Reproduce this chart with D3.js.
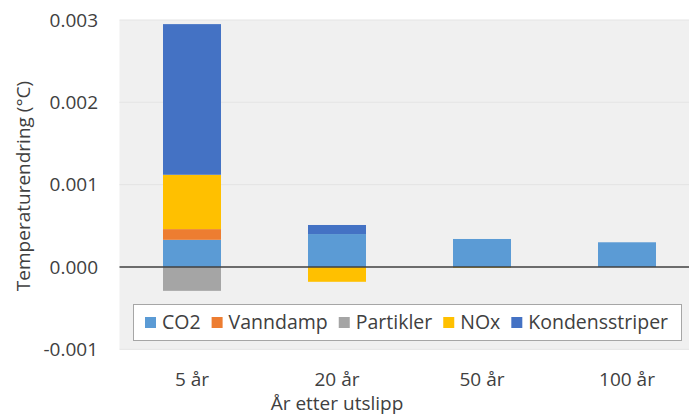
<!DOCTYPE html>
<html><head><meta charset="utf-8">
<script src="https://cdn.jsdelivr.net/npm/d3@7"></script>
<style>body{margin:0;background:#fff}svg{display:block}text{font-family:"Open Sans",sans-serif;fill:#404040}</style>
</head><body><svg id="c" width="689" height="416"></svg>
<script>
const categories = ["5 år", "20 år", "50 år", "100 år"];
const seriesNames = ["CO2", "Vanndamp", "Partikler", "NOx", "Kondensstriper"];
const co2 = [0.00033, 0.00040, 0.00034, 0.00030];
const vanndamp = [0.00013, 0.0, 0.0, 0.0];
const partikler = [-0.00029, 0.0, 0.0, 0.0];
const nox = [0.00066, -0.00018, -0.00001, 0.0];
const kondensstriper = [0.00183, 0.00011, 0.0, 0.0];
const yTicks = [-0.001, 0.000, 0.001, 0.002, 0.003];
const colors = ["#5B9BD5", "#ED7D31", "#A5A5A5", "#FFC000", "#4472C4"];

const FS = "19px";
const seriesVals = [co2, vanndamp, partikler, nox, kondensstriper];
const svg = d3.select("#c");
const x = d3.scaleBand().domain(categories).range([119.5, 699.5]).paddingInner(0.6).paddingOuter(0.3);
const y = d3.scaleLinear().domain([-0.001, 0.003]).range([349.3, 20]);

// plot background
svg.append("rect").attr("x", 119.5).attr("y", y(0.003)).attr("width", 580).attr("height", y(-0.001) - y(0.003)).attr("fill", "#f0f0f0");
// grid
svg.append("g").selectAll("line").data(yTicks.filter(d => d !== 0)).join("line")
  .attr("x1", 119.5).attr("x2", 699).attr("y1", d => y(d)).attr("y2", d => y(d))
  .attr("stroke", "#e4e4e4").attr("stroke-width", 1);

// y axis labels
const fmt = d3.format(".3f");
const yAxis = d3.axisLeft(y).tickValues(yTicks).tickFormat(d => fmt(d).replace("−", "-")).tickSize(0).tickPadding(0);
const ya = svg.append("g").attr("transform", "translate(98,0)").call(yAxis);
ya.select(".domain").remove();
ya.selectAll("text").style("font-size", FS).attr("fill", "#404040").style("font-family", "'Open Sans',sans-serif");

// stacked bars (positive and negative separately)
categories.forEach((c, i) => {
  let pos = 0, neg = 0;
  seriesVals.forEach((s, k) => {
    const v = s[i];
    if (v === 0) return;
    let y0, y1;
    if (v > 0) { y0 = pos; y1 = pos + v; pos = y1; } else { y0 = neg; y1 = neg + v; neg = y1; }
    svg.append("rect").attr("x", x(c)).attr("width", x.bandwidth())
      .attr("y", y(Math.max(y0, y1))).attr("height", Math.abs(y(y0) - y(y1)))
      .attr("fill", colors[k]);
  });
});

// zero line
svg.append("line").attr("x1", 119.5).attr("x2", 699).attr("y1", y(0)).attr("y2", y(0)).attr("stroke", "#404040").attr("stroke-width", 1.3);

// x axis labels
const xAxis = d3.axisBottom(x).tickSize(0).tickPadding(0);
const xa = svg.append("g").attr("transform", "translate(0,372)").call(xAxis);
xa.select(".domain").remove();
xa.selectAll("text").style("font-size", FS).attr("fill", "#404040").style("font-family", "'Open Sans',sans-serif");

// axis titles
svg.append("text").attr("x", 337).attr("y", 410).attr("text-anchor", "middle").style("font-size", FS).text("År etter utslipp");
svg.append("text").attr("transform", "translate(30,186) rotate(-90)").attr("text-anchor", "middle").style("font-size", FS).text("Temperaturendring (°C)");

// legend
const lg = svg.append("g");
lg.append("rect").attr("x", 133.5).attr("y", 304.5).attr("width", 548).attr("height", 36).attr("fill", "#fff").attr("stroke", "#a6a6a6");
let lx = 145;
seriesNames.forEach((n, k) => {
  lg.append("rect").attr("x", lx).attr("y", 317).attr("width", 11).attr("height", 11).attr("fill", colors[k]);
  const t = lg.append("text").attr("x", lx + 17).attr("y", 329).style("font-size", "19.5px").text(n);
  lx += 17 + t.node().getComputedTextLength() + 11;
});
</script></body></html>
